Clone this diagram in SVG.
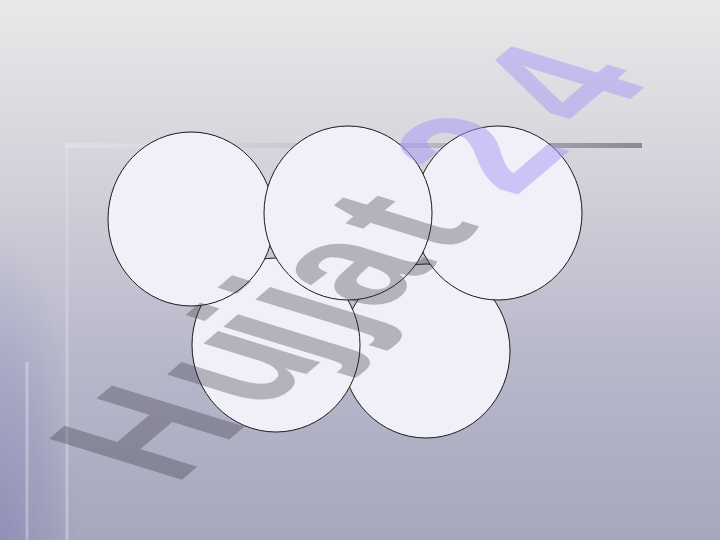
<svg xmlns="http://www.w3.org/2000/svg" width="720" height="540" viewBox="0 0 720 540">
  <defs>
    <linearGradient id="bg" x1="0" y1="0" x2="0" y2="1">
      <stop offset="0" stop-color="#e9e9e9"/>
      <stop offset="0.3" stop-color="#d4d4dc"/>
      <stop offset="0.65" stop-color="#b9b9cc"/>
      <stop offset="1" stop-color="#a7a7bd"/>
    </linearGradient>
    <radialGradient id="leftTint" gradientUnits="userSpaceOnUse" cx="0" cy="560" r="1" gradientTransform="translate(0 560) scale(80 330) translate(0 -560)">
      <stop offset="0" stop-color="#7c7cb4" stop-opacity="0.55"/>
      <stop offset="1" stop-color="#7c7cb4" stop-opacity="0"/>
    </radialGradient>
    <linearGradient id="hline" gradientUnits="userSpaceOnUse" x1="65" y1="0" x2="642" y2="0">
      <stop offset="0" stop-color="#ffffff" stop-opacity="0.2"/>
      <stop offset="0.35" stop-color="#b8b8c4" stop-opacity="0.35"/>
      <stop offset="1" stop-color="#8a8a96" stop-opacity="1"/>
    </linearGradient>
    <linearGradient id="vline" x1="0" y1="0" x2="0" y2="1">
      <stop offset="0" stop-color="#ffffff" stop-opacity="0.12"/>
      <stop offset="1" stop-color="#ffffff" stop-opacity="0.32"/>
    </linearGradient>
  </defs>
  <style>
    .ring { fill: #f1f0f9; stroke: #1a1a1a; stroke-width: 1; }
    .mark { font-family: "Liberation Sans", Arial, sans-serif; font-weight: bold; font-size: 100px; }
    .gray { fill: #32323e; fill-opacity: 0.32; }
    .purple { fill: #a898f6; fill-opacity: 0.5; }
  </style>

  <g id="background">
    <rect x="0" y="0" width="720" height="540" fill="url(#bg)"/>
    <rect x="0" y="0" width="720" height="540" fill="url(#leftTint)"/>
  </g>

  <g id="connectors">
    <rect x="65" y="143" width="577" height="5" fill="url(#hline)"/>
    <rect x="65.5" y="144" width="3" height="396" fill="url(#vline)"/>
    <rect x="25.5" y="362" width="3" height="178" fill="#ffffff" fill-opacity="0.3"/>
  </g>

  <g id="circle5"><ellipse class="ring" cx="426" cy="351" rx="84" ry="87"/></g>
  <g id="circle4"><ellipse class="ring" cx="276" cy="345" rx="84" ry="87"/></g>
  <g id="circle1"><ellipse class="ring" cx="191" cy="219" rx="83" ry="87"/></g>
  <g id="circle3"><ellipse class="ring" cx="498" cy="213" rx="84" ry="87"/></g>
  <g id="circle2"><ellipse class="ring" cx="348" cy="213" rx="84" ry="87"/></g>

  <g id="watermark">
    <text class="mark" transform="matrix(1.067 -0.906 1.929 0.596 177 484)" y="0"><tspan class="gray" x="-2 80 132 162 189 252">Hujjat</tspan><tspan class="purple" x="316 392">24</tspan></text>
  </g>
</svg>
